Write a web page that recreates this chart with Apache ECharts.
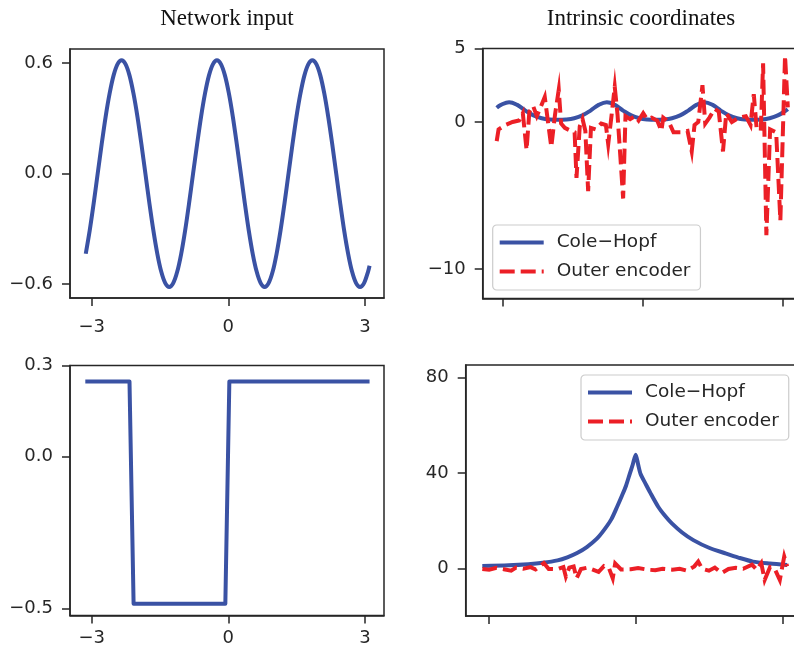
<!DOCTYPE html>
<html><head><meta charset="utf-8">
<script src="https://cdn.jsdelivr.net/npm/echarts@6/dist/echarts.min.js"></script>
<style>html,body{margin:0;padding:0;background:#fff}#c{width:794px;height:650px}</style>
</head><body><div id="c"></div>
<script>
// ---- data ----
const titles = ['Network input', 'Intrinsic coordinates'];
const seriesNames = ['Cole\u2212Hopf', 'Outer encoder'];

// top-left: network input (periodic wave)
const inputX = [-3.130, -3.043, -2.955, -2.868, -2.781, -2.694, -2.606, -2.519, -2.432,
  -2.344, -2.257, -2.170, -2.083, -1.995, -1.908, -1.821, -1.734, -1.646, -1.559, -1.472, -1.385,
  -1.297, -1.210, -1.123, -1.035, -0.948, -0.861, -0.774, -0.686, -0.599, -0.512, -0.425, -0.337,
  -0.250, -0.163, -0.075, 0.012, 0.099, 0.186, 0.274, 0.361, 0.448, 0.535, 0.623, 0.710,
  0.797, 0.884, 0.972, 1.059, 1.146, 1.234, 1.321, 1.408, 1.495, 1.583, 1.670, 1.757,
  1.844, 1.932, 2.019, 2.106, 2.193, 2.281, 2.368, 2.455, 2.542, 2.630, 2.717, 2.804, 2.891, 2.979, 3.066, 3.10];
const inputY = [-0.435, -0.308, -0.159, 0, 0.159, 0.308, 0.435, 0.533, 0.594,
  0.615, 0.594, 0.533, 0.435, 0.308, 0.159, 0, -0.159, -0.308, -0.435, -0.533, -0.594,
  -0.615, -0.594, -0.533, -0.435, -0.308, -0.159, 0, 0.159, 0.308, 0.435, 0.533, 0.594,
  0.615, 0.594, 0.533, 0.435, 0.308, 0.159, 0, -0.159, -0.308, -0.435, -0.533, -0.594,
  -0.615, -0.594, -0.533, -0.435, -0.308, -0.159, 0, 0.159, 0.308, 0.435, 0.533, 0.594,
  0.615, 0.594, 0.533, 0.435, 0.308, 0.159, 0, -0.159, -0.308, -0.435, -0.533, -0.594, -0.615, -0.594, -0.533, -0.50];

// bottom-left: network input (step)
const stepX = [-3.14, -2.17, -2.08, -0.066, 0.022, 3.10];
const stepY = [0.247, 0.247, -0.483, -0.483, 0.247, 0.247];

// top-right: intrinsic coordinates
const ch1X = [-3.14, -3.049, -2.874, -2.700, -2.525, -2.351, -2.176, -2.002, -1.827, -1.653, -1.478, -1.304, -1.129, -0.955, -0.780, -0.606, -0.431, -0.257, -0.082, 0.093, 0.267, 0.442, 0.616, 0.791, 0.965, 1.140, 1.314, 1.489, 1.663, 1.838, 2.012, 2.187, 2.361, 2.536, 2.710, 2.885, 3.059, 3.10];
const ch1Y = [0.97, 1.167, 1.352, 1.167, 0.780, 0.450, 0.260, 0.174, 0.150, 0.174, 0.260, 0.450, 0.780, 1.167, 1.352, 1.167, 0.780, 0.450, 0.260, 0.174, 0.150, 0.174, 0.260, 0.450, 0.780, 1.167, 1.352, 1.167, 0.780, 0.450, 0.260, 0.174, 0.150, 0.174, 0.260, 0.450, 0.780, 0.87];
const enc1X = [-3.14, -3.10, -2.95, -2.80, -2.66, -2.58, -2.50, -2.44, -2.36, -2.28, -2.20, -2.11, -1.97, -1.89, -1.81, -1.76, -1.68, -1.55, -1.47, -1.43, -1.36, -1.30, -1.24, -1.18, -1.12, -1.02, -0.90, -0.80, -0.75, -0.68, -0.61, -0.55, -0.43, -0.38, -0.28, -0.18, -0.10, 0.00, 0.08, 0.18, 0.30, 0.39, 0.43, 0.55, 0.65, 0.80, 0.95, 1.04, 1.10, 1.18, 1.27, 1.33, 1.42, 1.53, 1.62, 1.71, 1.78, 1.90, 2.05, 2.20, 2.30, 2.37, 2.43, 2.52, 2.57, 2.64, 2.72, 2.85, 2.94, 3.04, 3.10];
const enc1Y = [-1.3, -0.5, -0.2, 0.0, 0.1, 0.6, -1.9, 0.7, 1.1, 0.4, 1.0, 1.7, -1.7, 0.5, 2.2, -0.1, -0.4, -0.6, -0.7, -3.8, -0.3, 0.2, -0.6, -4.7, -0.4, -0.5, -0.1, -0.2, -1.5, 0.4, 2.4, 0.5, -5.2, 0.4, 0.2, 0.4, 0.1, 0.6, 0.2, 0.3, 0.1, -0.6, 0.3, 0.0, -0.7, -0.7, -0.6, -2.0, -0.2, 0.0, 2.5, -0.1, 0.3, 0.9, 0.7, -2.0, 0.6, 0.0, 0.3, 0.4, -0.2, 1.9, -0.4, -0.6, 4.0, -7.7, -0.5, -0.7, -6.7, 4.5, 1.0];

// bottom-right: intrinsic coordinates
const ch2X = [-3.14, -2.6, -2.2, -1.9, -1.6, -1.4, -1.2, -1.0, -0.8, -0.65, -0.5, -0.38, -0.28, -0.2, -0.12, -0.06, 0, 0.05, 0.1, 0.2, 0.3, 0.46, 0.6, 0.74, 0.95, 1.18, 1.5, 1.83, 2.1, 2.4, 2.75, 3.10];
const ch2Y = [1.0, 1.25, 1.7, 2.3, 3.3, 4.6, 6.4, 8.9, 12.3, 16.0, 20.5, 25.8, 30.5, 34.5, 39.7, 43.5, 47.6, 43.5, 39.5, 35.5, 31.6, 25.8, 22.0, 18.8, 15.0, 11.8, 8.6, 6.3, 4.5, 2.8, 2.0, 1.4];
const enc2X = [-3.14, -3.0, -2.85, -2.70, -2.55, -2.45, -2.30, -2.15, -2.05, -1.95, -1.88, -1.78, -1.60, -1.48, -1.43, -1.36, -1.27, -1.21, -1.12, -1.00, -0.90, -0.76, -0.65, -0.55, -0.47, -0.42, -0.30, -0.10, 0.05, 0.25, 0.40, 0.55, 0.75, 0.90, 1.05, 1.20, 1.28, 1.36, 1.50, 1.62, 1.76, 1.90, 2.05, 2.20, 2.38, 2.48, 2.57, 2.64, 2.75, 2.85, 2.95, 3.04, 3.10];
const enc2Y = [-0.3, -0.6, 0.2, -0.4, -1.0, 0.3, -0.2, 0.5, -0.5, 1.0, 2.2, -0.3, -0.4, 0.5, -3.5, 0.3, 0.8, -4.2, -0.3, 0.2, -0.4, -1.5, 0.9, 0.2, -4.2, 2.0, -0.5, -0.4, 0.1, -0.6, -0.8, -0.2, -0.6, -0.2, -1.0, 0.8, 2.8, -0.2, -1.0, 0.3, -2.0, -0.3, 0.2, -0.2, 1.5, -0.6, 2.2, -4.9, 0.5, -0.4, -4.9, 4.9, 0.8];

// tick values and labels
const xTicks = [-3, 0, 3];
const xTickLabels = ['\u22123', '0', '3'];
const yTicksTL = [-0.6, 0, 0.6];
const yLabelsTL = ['\u22120.6', '0.0', '0.6'];
const yTicksBL = [-0.5, 0, 0.3];
const yLabelsBL = ['\u22120.5', '0.0', '0.3'];
const yTicksTR = [-10, 0, 5];
const yLabelsTR = ['\u221210', '0', '5'];
const yTicksBR = [0, 40, 80];
const yLabelsBR = ['0', '40', '80'];

// ---- styling ----
const BLUE = '#3a52a4';
const RED = '#ec1f26';
const DARK = '#262626';
const pair = (xs, ys) => xs.map((x, i) => [x, ys[i]]);
const fmt = (ticks, labels) => v => {
  let best = 0, d = Infinity;
  ticks.forEach((t, i) => { const e = Math.abs(t - v); if (e < d) { d = e; best = i; } });
  return labels[best];
};
function xAx(gi, min, max, show, margin) {
  return {
    type: 'value', gridIndex: gi, min: min, max: max,
    axisLine: { show: true, onZero: false, lineStyle: { color: DARK, width: 1.5 } },
    axisTick: { show: true, customValues: xTicks, length: 8, lineStyle: { color: DARK, width: 1.5 } },
    axisLabel: { show: show, customValues: xTicks, formatter: fmt(xTicks, xTickLabels), margin: margin,
      fontSize: 18, color: DARK, fontFamily: 'DejaVu Sans' },
    splitLine: { show: false }
  };
}
function yAx(gi, min, max, ticks, labels) {
  return {
    type: 'value', gridIndex: gi, min: min, max: max,
    axisLine: { show: true, onZero: false, lineStyle: { color: DARK, width: 1.5 } },
    axisTick: { show: true, customValues: ticks, length: 8, lineStyle: { color: DARK, width: 1.5 } },
    axisLabel: { customValues: ticks, formatter: fmt(ticks, labels), margin: 17,
      fontSize: 18, color: DARK, fontFamily: 'DejaVu Sans' },
    splitLine: { show: false }
  };
}
const gridBase = { show: true, borderColor: DARK, borderWidth: 1.5, backgroundColor: '#fff', containLabel: false, outerBoundsMode: 'none' };
const legendBase = {
  orient: 'vertical', itemWidth: 44, itemHeight: 18, itemGap: 10,
  backgroundColor: 'rgba(255,255,255,0.85)', borderColor: '#cccccc', borderWidth: 1.2, borderRadius: 4,
  padding: [8, 10, 9, 5],
  itemStyle: { opacity: 0 },
  lineStyle: { width: 4, cap: 'butt' },
  textStyle: { fontSize: 18.5, color: DARK, fontFamily: 'DejaVu Sans', padding: [0, 0, 0, 8] },
  data: seriesNames
};
const blueLine = { color: BLUE, width: 4, cap: 'butt', join: 'round' };
const redLine = { color: RED, width: 4, type: [15, 6], cap: 'butt', join: 'miter' };

const chart = echarts.init(document.getElementById('c'), null, { renderer: 'canvas' });
chart.setOption({
  animation: false,
  backgroundColor: '#ffffff',
  graphic: [
    { type: 'text', x: 227, y: 18.5, style: { text: titles[0], fill: '#111', font: '23px "Liberation Serif"', textAlign: 'center', textVerticalAlign: 'middle' } },
    { type: 'text', x: 641, y: 18.5, style: { text: titles[1], fill: '#111', font: '23px "Liberation Serif"', textAlign: 'center', textVerticalAlign: 'middle' } }
  ],
  grid: [
    Object.assign({ left: 70, top: 49, width: 314, height: 249 }, gridBase),
    Object.assign({ left: 70, top: 365.5, width: 314, height: 250 }, gridBase),
    Object.assign({ left: 482.7, top: 48.5, width: 321, height: 250 }, gridBase),
    Object.assign({ left: 465.7, top: 365, width: 340, height: 251 }, gridBase)
  ],
  xAxis: [
    xAx(0, -3.476, 3.417, true, 20),
    xAx(1, -3.476, 3.417, true, 14),
    xAx(2, -3.44, 3.44, false, 14),
    xAx(3, -3.48, 3.48, false, 14)
  ],
  yAxis: [
    yAx(0, -0.675, 0.676, yTicksTL, yLabelsTL),
    yAx(1, -0.522, 0.3, yTicksBL, yLabelsBL),
    yAx(2, -12, 5, yTicksTR, yLabelsTR),
    yAx(3, -20, 85.2, yTicksBR, yLabelsBR)
  ],
  legend: [
    Object.assign({ left: 492.7, top: 225 }, legendBase),
    Object.assign({ left: 581, top: 375 }, legendBase)
  ],
  series: [
    { type: 'line', xAxisIndex: 0, yAxisIndex: 0, data: pair(inputX, inputY), smooth: 0.3, symbol: 'none', lineStyle: blueLine, itemStyle: { color: BLUE } },
    { type: 'line', xAxisIndex: 1, yAxisIndex: 1, data: pair(stepX, stepY), smooth: false, symbol: 'none', lineStyle: blueLine, itemStyle: { color: BLUE } },
    { name: seriesNames[0], type: 'line', xAxisIndex: 2, yAxisIndex: 2, data: pair(ch1X, ch1Y), smooth: 0.4, symbol: 'none', lineStyle: blueLine, itemStyle: { color: BLUE } },
    { name: seriesNames[1], type: 'line', xAxisIndex: 2, yAxisIndex: 2, data: pair(enc1X, enc1Y), smooth: false, symbol: 'none', lineStyle: redLine, itemStyle: { color: RED } },
    { name: seriesNames[0], type: 'line', xAxisIndex: 3, yAxisIndex: 3, data: pair(ch2X, ch2Y), smooth: 0.25, symbol: 'none', lineStyle: blueLine, itemStyle: { color: BLUE } },
    { name: seriesNames[1], type: 'line', xAxisIndex: 3, yAxisIndex: 3, data: pair(enc2X, enc2Y), smooth: false, symbol: 'none', lineStyle: redLine, itemStyle: { color: RED } }
  ]
});
</script></body></html>
